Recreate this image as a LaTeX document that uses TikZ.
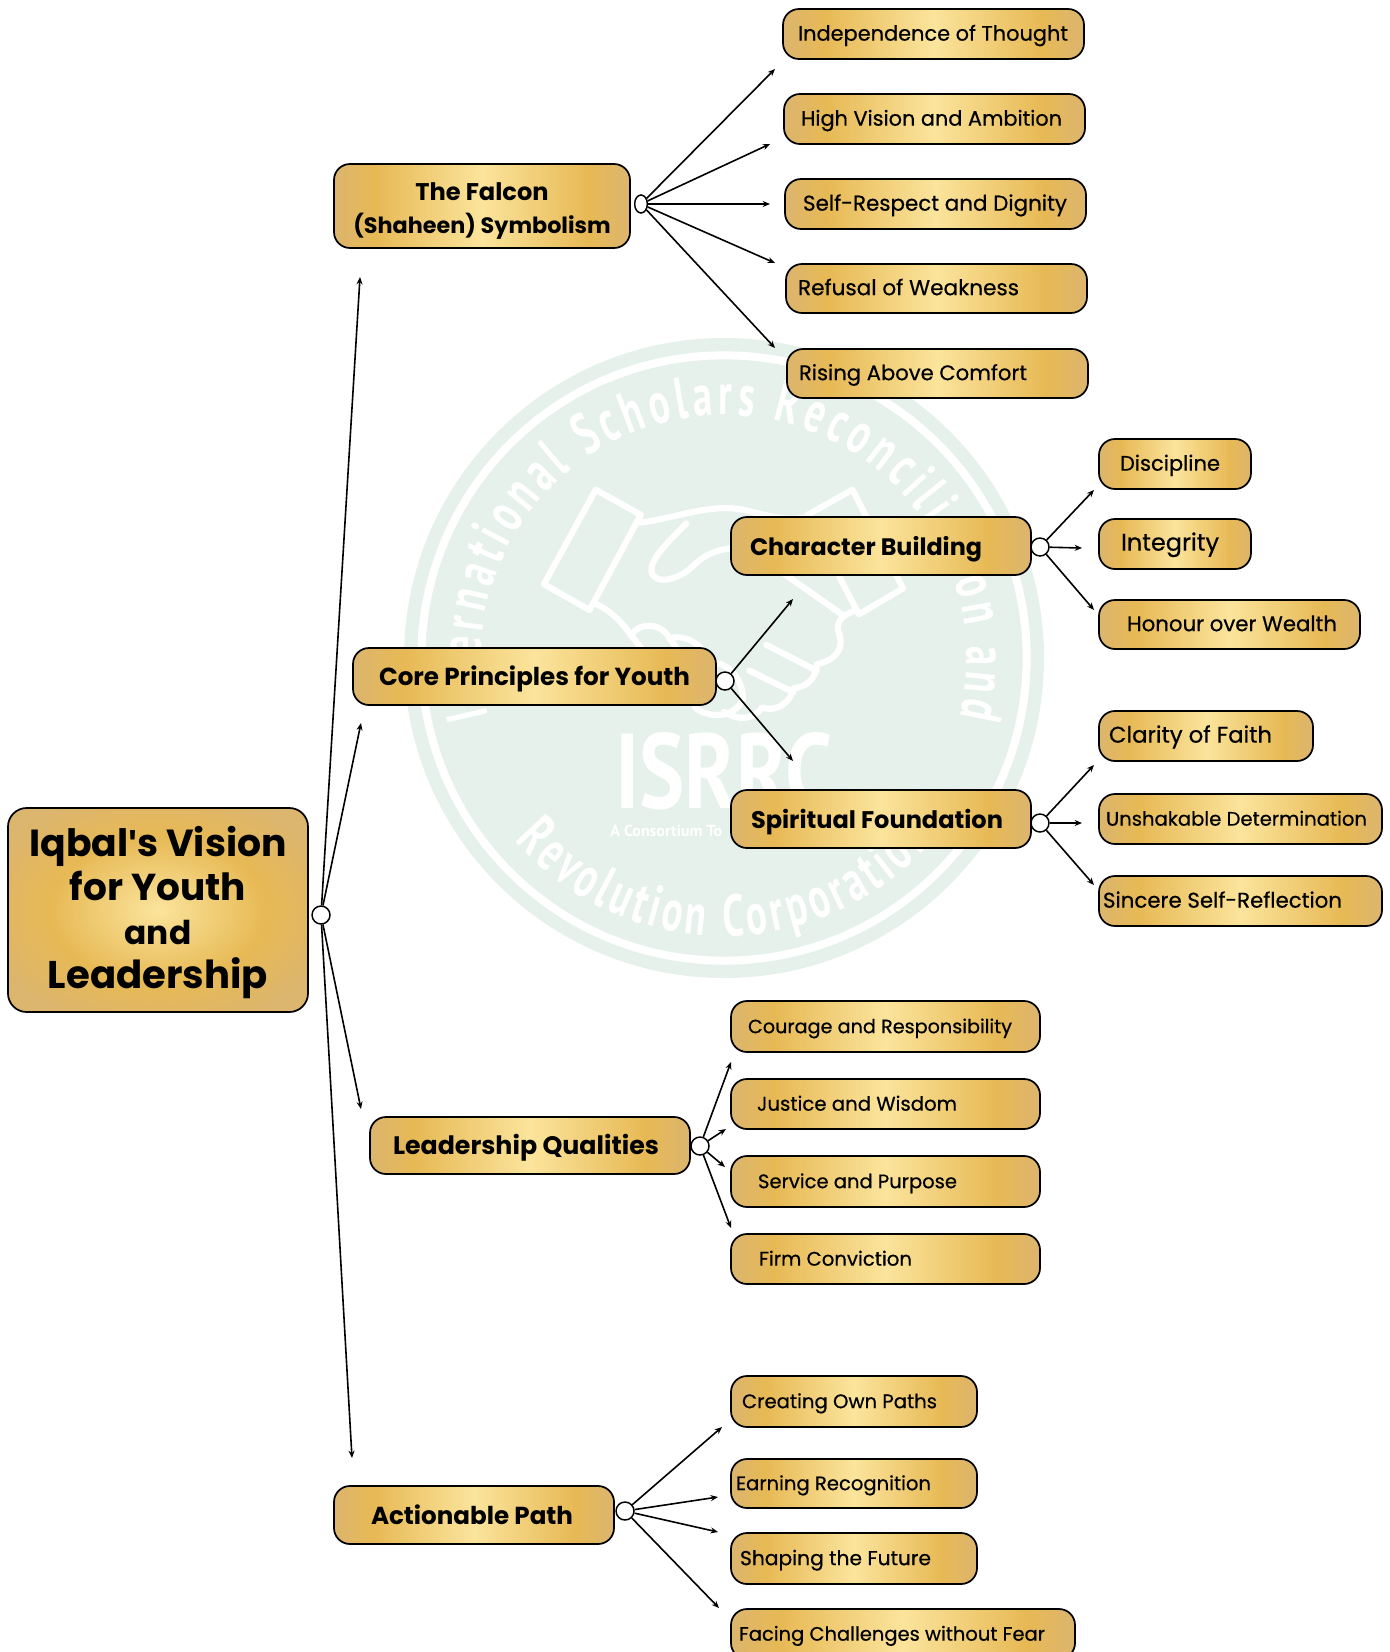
\documentclass[tikz,border=0pt]{standalone}
\usepackage{fontspec}
\usepackage{graphicx}
\usetikzlibrary{arrows.meta,shapes.geometric,decorations.text,calc}
\setmainfont{Poppins}
\newfontfamily\aposfont[Ligatures=ResetAll]{Liberation Sans}
\newfontfamily\leaffont[FakeBold=0.5]{Poppins}
\newfontfamily\wmfont[FakeStretch=0.66]{PT Sans Bold}
\newfontfamily\wmplain{PT Sans}
\definecolor{gedge}{HTML}{DCB56E}
\definecolor{gmid}{HTML}{E7B955}
\definecolor{glight}{HTML}{FBE49C}
\definecolor{wmbg}{HTML}{E6F1EC}
\pgfdeclarehorizontalshading{goldbar}{100bp}{color(0bp)=(gedge);color(25bp)=(gedge);color(32bp)=(gmid);color(50bp)=(glight);color(68bp)=(gmid);color(75bp)=(gedge);color(100bp)=(gedge)}
\pgfdeclareradialshading{goldrad}{\pgfpoint{0bp}{0bp}}{color(0bp)=(glight);color(18bp)=(gmid);color(30bp)=(gedge);color(50bp)=(gedge)}
\tikzset{
  box/.style={draw=black,line width=1.3pt,rounded corners=12pt,inner sep=0pt,outer sep=0pt,shade,shading=goldbar},
  leafbox/.style={box,font=\leaffont\fontsize{20}{24}\selectfont},
  headbox/.style={box,font=\bfseries\fontsize{20}{24}\selectfont},
  rootbox/.style={box,rounded corners=14pt,shading=goldrad,font=\bfseries\fontsize{20}{33}\selectfont,align=center},
  hub/.style={circle,draw=black,fill=white,line width=1.1pt,minimum size=13.5pt,inner sep=0pt},
  oval/.style={ellipse,draw=black,fill=white,line width=1.1pt,minimum width=9.5pt,minimum height=13.5pt,inner sep=0pt},
  arr/.style={draw=black,line width=1.2pt,-{Stealth[length=5.5pt,width=4.5pt]}},
  wmline/.style={draw=white,line width=4.6pt,line join=round,line cap=round},
}
\def\dropv{5pt}
\newcommand\lab[9]{%
 \pgfmathsetmacro\cxx{(#3+#5)/2}\pgfmathsetmacro\cyy{(#4+#6)/2}%
 \pgfmathsetmacro\wwv{(#5-#3)*.75}\pgfmathsetmacro\hhv{(#6-#4)*.75}%
 \pgfmathsetmacro\padv{(#7-#3)*.75}\pgfmathsetmacro\twv{(#8-#7)*.75}%
 \node[#1,minimum width=\wwv pt,minimum height=\hhv pt] (#2) at (\cxx,\cyy) {\makebox[\wwv pt][l]{\hspace*{\padv pt}\smash{\raisebox{-\dropv}{\resizebox{\twv pt}{!}{#9}}}}};}
\newcommand\fitl[3]{\raisebox{-#1pt}[0pt][0pt]{\resizebox{#2pt}{!}{#3}}}
\begin{document}
\begin{tikzpicture}[x=0.75pt,y=-0.75pt]
\useasboundingbox (0,0) rectangle (1389,1652);
\clip (0,0) rectangle (1389,1652);
% watermark
\coordinate (wc) at (724,658);
\fill[wmbg] (wc) circle[radius=240pt];
\draw[white,line width=6pt] (wc) circle[radius=227pt];
\path[decorate,decoration={text along path,text align={fit to path},text={|\wmfont\fontsize{44}{44}\selectfont\color{white}|International Scholars Reconciliation and}}]
  ($(wc)+(194:182.25pt)$) arc[start angle=194,end angle=-14,radius=182.25pt];
\path[decorate,decoration={text along path,text align={fit to path},text={|\wmfont\fontsize{44}{44}\selectfont\color{white}|Revolution Corporation}}]
  ($(wc)+(221:208.5pt)$) arc[start angle=221,end angle=319,radius=208.5pt];
\node[white,font=\wmplain\bfseries,inner sep=0pt,anchor=center] (wmisrrc) at (724,771) {\resizebox{163pt}{57pt}{ISRRC}};
\node[white,font=\wmplain\bfseries,inner sep=0pt,anchor=west] (wmtag) at (610,831) {\resizebox{84pt}{!}{A Consortium To}};
\begin{scope}[shift={(400,320)},x=0.3157pt,y=-0.3247pt]
 \draw[wmline] (465,392)--(572,450)--(450,670)--(342,610)--cycle;
 \draw[wmline] (1075,392)--(1195,620)--(1090,680)--(968,450)--cycle;
 \draw[wmline] (570,468) .. controls (640,460) and (720,430) .. (790,435) .. controls (850,440) and (900,470) .. (968,455);
 \draw[wmline] (680,470) .. controls (640,510) and (595,550) .. (597,580) .. controls (605,615) and (665,600) .. (700,565) .. controls (730,535) and (780,520) .. (830,530) -- (1050,680);
 \draw[wmline] (465,655) .. controls (505,675) and (530,700) .. (550,730) .. controls (560,700) and (620,695) .. (640,735) .. controls (680,725) and (720,750) .. (735,790) .. controls (780,790) and (815,830) .. (815,875) .. controls (800,915) and (740,925) .. (700,895);
 \draw[wmline] (1085,670) .. controls (1050,680) and (1030,700) .. (1045,730) .. controls (1055,770) and (1020,790) .. (990,795) .. controls (990,830) and (960,850) .. (935,850) .. controls (925,890) and (890,905) .. (860,895) .. controls (840,925) and (800,925) .. (770,905);
 \draw[wmline] (870,750)--(990,810);
 \draw[wmline] (830,810)--(935,860);
 \draw[wmline] (550,730)--(600,790);
 \draw[wmline] (640,735)--(690,800);
\end{scope}
% nodes
\node[rootbox,minimum width=225pt,minimum height=153pt] (root) at (158,910) {\fitl{9.4}{193}{Iqbal{\aposfont\bfseries\char39}s Vision}\\\fitl{9.4}{132}{for Youth}\\\fitl{9.4}{50}{and}\\\fitl{9.4}{165}{Leadership}};
\node[box,font=\bfseries\fontsize{20}{25}\selectfont,align=center,minimum width=222pt,minimum height=63pt] (falcon) at (482,206) {\fitl{8}{100}{The Falcon}\\\fitl{8}{193}{(Shaheen) Symbolism}};
\def\dropv{7pt}
\lab{headbox}{core}{353}{648}{716}{705}{379}{690}{Core Principles for Youth}
\lab{headbox}{char}{731}{517}{1031}{575}{750}{982}{Character Building}
\lab{headbox}{spir}{731}{790}{1031}{848}{751}{1003}{Spiritual Foundation}
\lab{headbox}{lead}{370}{1117}{690}{1174}{393}{659}{Leadership Qualities}
\lab{headbox}{act}{334}{1486}{614}{1544}{371}{573}{Actionable Path}
\def\dropv{5pt}
\lab{leafbox}{f1}{783}{9}{1084}{59}{798}{1068}{Independence of Thought}
\lab{leafbox}{f2}{784}{94}{1085}{144}{801}{1062}{High Vision and Ambition}
\lab{leafbox}{f3}{785}{179}{1086}{229}{803}{1067}{Self-Respect and Dignity}
\lab{leafbox}{f4}{786}{264}{1087}{313}{798}{1019}{Refusal of Weakness}
\lab{leafbox}{f5}{787}{349}{1088}{398}{799}{1027}{Rising Above Comfort}
\lab{leafbox}{c1}{1099}{439}{1251}{489}{1120}{1220}{Discipline}
\lab{leafbox}{c2}{1099}{519}{1251}{569}{1121}{1219}{Integrity}
\lab{leafbox}{c3}{1099}{600}{1360}{649}{1127}{1337}{Honour over Wealth}
\lab{leafbox}{s1}{1099}{711}{1313}{761}{1109}{1272}{Clarity of Faith}
\lab{leafbox}{s2}{1099}{794}{1382}{844}{1106}{1367}{Unshakable Determination}
\lab{leafbox}{s3}{1099}{876}{1382}{926}{1103}{1342}{Sincere Self-Reflection}
\lab{leafbox}{l1}{731}{1001}{1040}{1052}{748}{1012}{Courage and Responsibility}
\lab{leafbox}{l2}{731}{1079}{1040}{1129}{757}{957}{Justice and Wisdom}
\lab{leafbox}{l3}{731}{1156}{1040}{1207}{758}{957}{Service and Purpose}
\lab{leafbox}{l4}{731}{1234}{1040}{1284}{759}{912}{Firm Conviction}
\lab{leafbox}{a1}{731}{1376}{977}{1427}{742}{937}{Creating Own Paths}
\lab{leafbox}{a2}{731}{1459}{977}{1508}{736}{931}{Earning Recognition}
\lab{leafbox}{a3}{731}{1533}{977}{1584}{740}{931}{Shaping the Future}
\lab{leafbox}{a4}{731}{1609}{1075}{1659}{739}{1045}{Facing Challenges without Fear}
% hubs
\node[hub] (hroot) at (321,915) {};
\node[oval] (hfal) at (641,204) {};
\node[hub] (hcore) at (725,681) {};
\node[hub] (hchar) at (1040,547) {};
\node[hub] (hspir) at (1040,823) {};
\node[hub] (hlead) at (700,1146) {};
\node[hub] (hact) at (625,1511) {};
% free ends
\foreach \n/\x/\y in {t1/360/277,t2/361/723,t3/361/1109,t4/352/1458,
  u1/775/69,u2/770/144,u3/770/204,u4/775/263,u5/775/348,
  v1/793/599,v2/793/761,
  w1/1094/490,w2/1082/548,w3/1094/610,
  y1/1094/765,y2/1082/823,y3/1094/885,
  z1/731/1062,z2/726/1129,z3/725/1167,z4/731/1228,
  q1/722/1427,q2/718/1497,q3/718/1532,q4/719/1608}
  {\coordinate (\n) at (\x,\y);}
\foreach \t in {t1,t2,t3,t4} {\draw[arr] (hroot) -- (\t);}
\foreach \t in {u1,u2,u3,u4,u5} {\draw[arr] (hfal) -- (\t);}
\foreach \t in {v1,v2} {\draw[arr] (hcore) -- (\t);}
\foreach \t in {w1,w2,w3} {\draw[arr] (hchar) -- (\t);}
\foreach \t in {y1,y2,y3} {\draw[arr] (hspir) -- (\t);}
\foreach \t in {z1,z2,z3,z4} {\draw[arr] (hlead) -- (\t);}
\foreach \t in {q1,q2,q3,q4} {\draw[arr] (hact) -- (\t);}
\end{tikzpicture}
\end{document}
